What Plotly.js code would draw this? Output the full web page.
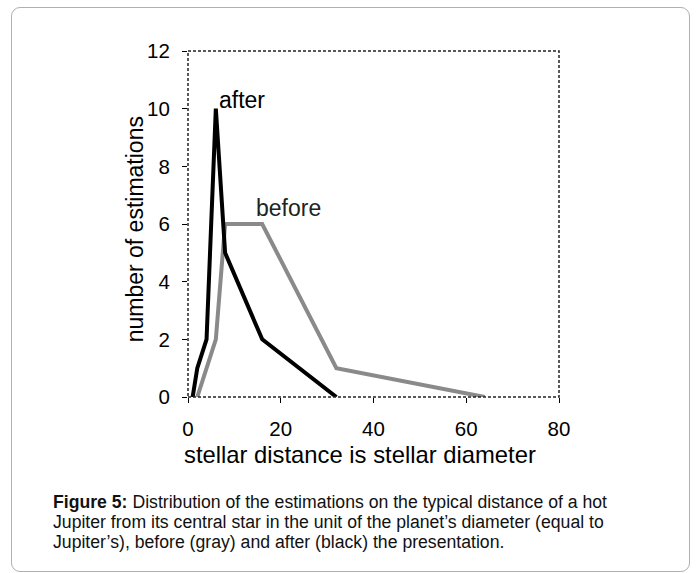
<!DOCTYPE html>
<html><head><meta charset="utf-8">
<script src="https://cdn.plot.ly/plotly-3.0.1.min.js"></script>
<style>
html,body{margin:0;padding:0;background:#fff;}
#frame{position:absolute;left:11px;top:7px;width:679px;height:565px;border:1px solid #b0b0b0;border-radius:9px;box-sizing:border-box;}
#chart{position:absolute;left:0;top:0;width:699px;height:573px;}
</style></head>
<body>
<div id="frame"></div>
<div id="chart"></div>
<script>
const afterX = [1, 2, 4, 6, 8, 16, 32];
const afterY = [0, 1, 2, 10, 5, 2, 0];
const beforeX = [2, 6, 8, 16, 32, 64];
const beforeY = [0, 2, 6, 6, 1, 0];
const xTicks = [0, 20, 40, 60, 80];
const yTicks = [0, 2, 4, 6, 8, 10, 12];
const xTitle = 'stellar distance is stellar diameter';
const yTitle = 'number of estimations';
const captionLines = [
  '<b>Figure 5:</b> Distribution of the estimations on the typical distance of a hot',
  'Jupiter from its central star in the unit of the planet\u2019s diameter (equal to',
  'Jupiter\u2019s), before (gray) and after (black) the presentation.'
];

const font = 'Liberation Sans, Arial, sans-serif';
const traces = [
  {x: beforeX, y: beforeY, mode: 'lines', line: {color: '#8a8a8a', width: 4}, name: 'before', cliponaxis: false},
  {x: afterX, y: afterY, mode: 'lines', line: {color: '#000', width: 4}, name: 'after', cliponaxis: false}
];
const captionY = [-0.3035, -0.3613, -0.4191];
const annotations = [
  {x: 6.2, y: 10.3, text: 'after', showarrow: false, xanchor: 'left', yanchor: 'middle', font: {size: 23}},
  {x: 14.3, y: 6.55, text: 'before', showarrow: false, xanchor: 'left', yanchor: 'middle', font: {size: 23, color: '#222'}},
  {xref: 'paper', yref: 'paper', x: 0.4636, y: -0.1676, xanchor: 'center', yanchor: 'middle',
    text: xTitle, showarrow: false, font: {size: 23.8}},
  {xref: 'paper', yref: 'paper', x: -0.142, y: 0.4855, xanchor: 'center', yanchor: 'middle', textangle: -90,
    text: yTitle, showarrow: false, font: {size: 23}}
];
captionLines.forEach((t, i) => annotations.push({
  xref: 'paper', yref: 'paper', x: -0.369, y: captionY[i], xanchor: 'left', yanchor: 'middle', align: 'left',
  text: t, showarrow: false, font: {size: 17.65, color: '#111'}
}));
const layout = {
  width: 699, height: 573,
  margin: {l: 188, r: 140, t: 51, b: 176},
  paper_bgcolor: 'rgba(0,0,0,0)', plot_bgcolor: 'rgba(0,0,0,0)',
  showlegend: false,
  font: {family: font, color: '#000'},
  xaxis: {range: [0, 80], tickvals: xTicks, showgrid: false, zeroline: false, showline: false,
    ticks: 'outside', ticklen: 5, tickcolor: '#000', tickfont: {size: 20.5}, ticklabelstandoff: 8},
  yaxis: {range: [0, 12], tickvals: yTicks, showgrid: false, zeroline: false, showline: false,
    ticks: 'outside', ticklen: 5, tickcolor: '#000', tickfont: {size: 20.5}, ticklabelstandoff: 8},
  shapes: [{type: 'rect', xref: 'paper', yref: 'paper', x0: 0, x1: 1, y0: 0, y1: 1,
    line: {color: '#222', width: 1.5, dash: '3px,2px'}}],
  annotations: annotations
};
Plotly.newPlot('chart', traces, layout, {displayModeBar: false, staticPlot: true});
</script>
</body></html>
